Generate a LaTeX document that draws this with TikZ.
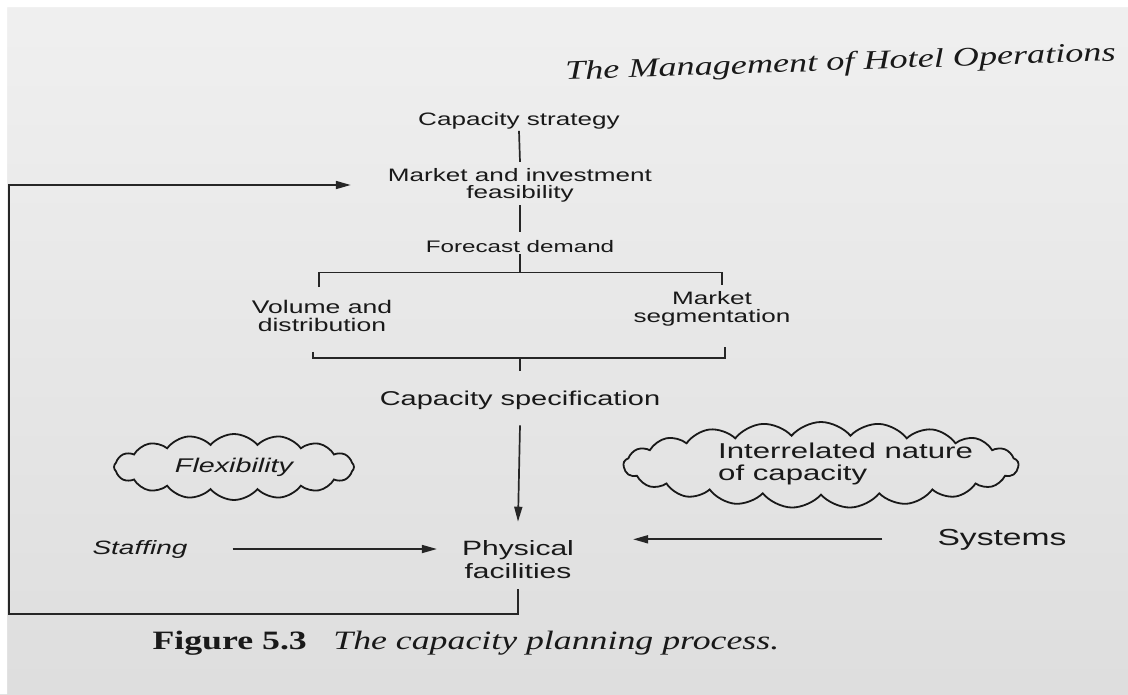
\documentclass[tikz,border=0pt]{standalone}
\usepackage{fontspec}
\newfontfamily\diag[FakeStretch=1.45]{Liberation Sans}
\newfontfamily\book[FakeStretch=1.35]{Liberation Serif}
\usetikzlibrary{arrows.meta, shapes.symbols}

\tikzset{
  lbl/.style 2 args={font=\diag\fontsize{#1}{#2}\selectfont, inner sep=0pt, text=black!90},
  itl/.style 2 args={lbl={#1}{#2}, font=\diag\itshape\fontsize{#1}{#2}\selectfont},
  line/.style={draw=black!85, line width=1.7pt},
  arr/.style={line, -{Triangle[length=15pt,width=8pt]}},
  cloudy/.style={cloud, draw=black!90, line width=1.8pt, cloud puffs=#1, cloud puff arc=100, cloud ignores aspect, inner sep=0pt},
}

\begin{document}
\begin{tikzpicture}[x=1pt,y=-1pt]
\useasboundingbox (0,0) rectangle (1128,694);
% page
\fill[top color=black!6, bottom color=black!13] (0,0) rectangle (1128,694);
\fill[white] (0,0) rectangle (1128,7) (0,0) rectangle (7,694);

\node[font=\book\itshape\fontsize{26.8}{26.8}\selectfont, text=black!90, anchor=base west, rotate=2] (head) at (562,80) {The Management of Hotel Operations};

% main chain
\node[lbl={18}{18}, anchor=base] (strat) at (519,125) {Capacity strategy};
\node[lbl={18}{17}, align=center] (mkt) at (520,185) {Market and investment\\feasibility};
\node[lbl={16.7}{16.7}, anchor=base] (fore) at (520,252) {Forecast demand};
\node[lbl={18.3}{18}, align=center] (vol) at (322,316) {Volume and\\distribution};
\node[lbl={18}{18}, align=center] (seg) at (712,309) {Market\\segmentation};
\node[lbl={20}{20}, anchor=base] (spec) at (520,405) {Capacity specification};
\node[lbl={20.7}{23}, align=center] (phys) at (518,560) {Physical\\facilities};

% side inputs
\node[itl={19.3}{19.3}, anchor=base] (staff) at (140,554) {Staffing};
\node[lbl={23.2}{23.2}, anchor=base] (sys) at (1002,545) {Systems};
\node[cloudy=16, minimum width=240pt, minimum height=66pt, itl={19.8}{19.8}] (flex) at (234,467) {Flexibility};
\node[cloudy=21, minimum width=395pt, minimum height=86pt] (interc) at (821,465) {};
\node[lbl={21.5}{22}, align=left, anchor=west] (inter) at (718,464) {Interrelated nature\\of capacity};

\node[font=\book\fontsize{26.5}{26.5}\selectfont, text=black!90, anchor=base west] (cap) at (149,649) {\textbf{Figure 5.3}\quad\textit{The capacity planning process.}};

\coordinate (bar) at ([yshift=-20pt]fore.south);
\coordinate (foot) at ([yshift=32pt]spec.north);
\coordinate (corner) at (9,614);

\draw[line] ([yshift=-2pt]strat.south) -- ([yshift=6pt]mkt.north);
\draw[line] ([yshift=-3pt]mkt.south) -- ([yshift=8pt]fore.north);
\draw[line] ([yshift=-2pt]fore.south) -- (bar);
\draw[line] ([xshift=-3pt,yshift=13pt]vol.north) |- (bar) -| ([xshift=10pt,yshift=6pt]seg.north);
\draw[line] ([xshift=-9pt,yshift=-20pt]vol.south) |- (foot) -| ([xshift=13pt,yshift=-20pt]seg.south);
\draw[line] (foot) -- ([yshift=19pt]spec.north);
\draw[arr] ([yshift=-16pt]spec.south) -- ([yshift=19pt]phys.north);
\draw[arr] ([xshift=45pt]staff.east) -- ([xshift=-25pt]phys.west |- staff.east);
\draw[arr] ([xshift=-55pt]sys.west) -- ([xshift=59pt]phys.east |- sys.west);
% feedback loop
\draw[arr] ([yshift=-10pt]phys.south) |- (corner) |- ([xshift=-37pt]mkt.west);
\end{tikzpicture}
\end{document}
